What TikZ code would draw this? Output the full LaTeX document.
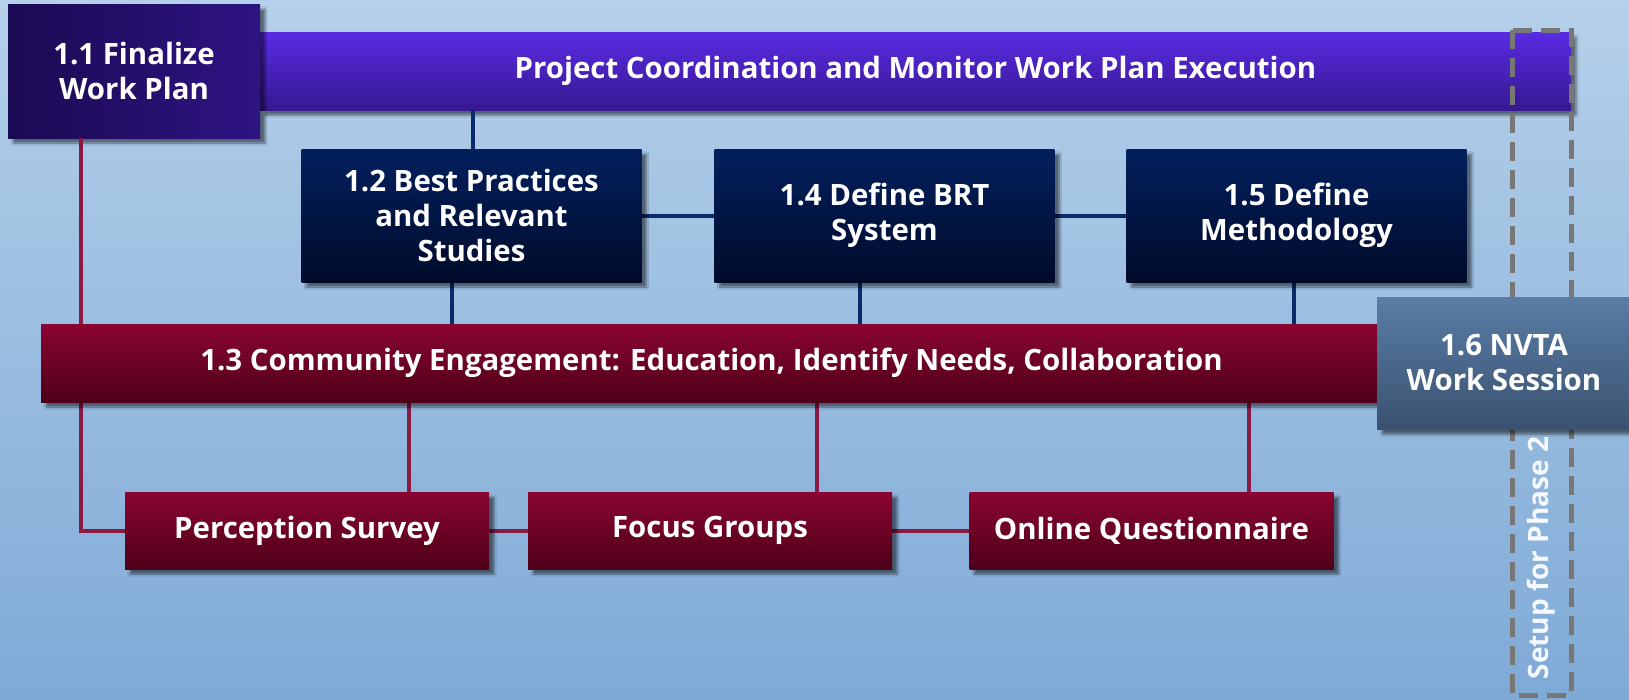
\documentclass[tikz,border=0pt]{standalone}
\usepackage{fontspec}
\setmainfont{Open Sans}
\usetikzlibrary{shadows.blur}
\definecolor{bgtop}{HTML}{B5D0EA}
\definecolor{bgbot}{HTML}{7FAAD6}
\definecolor{purtop}{HTML}{5A2BE3}
\definecolor{purbot}{HTML}{361890}
\definecolor{dpl}{HTML}{1A0A52}
\definecolor{dpr}{HTML}{2E1483}
\definecolor{navtop}{HTML}{03205E}
\definecolor{navbot}{HTML}{000B2A}
\definecolor{redtop}{HTML}{8A0532}
\definecolor{redbot}{HTML}{4E0018}
\definecolor{grtop}{HTML}{5A7DA6}
\definecolor{grbot}{HTML}{3A5270}
\definecolor{navline}{HTML}{0B2A6B}
\definecolor{redline}{HTML}{8A1A42}
\definecolor{dashgrey}{HTML}{777777}
\tikzset{
  sh/.style={blur shadow={shadow xshift=5pt, shadow yshift=-5pt, shadow blur steps=6, shadow opacity=50}},
  boxtxt/.style={text=white, align=center, font=\bfseries\fontsize{29.4}{35}\selectfont, inner sep=0pt},
  navbox/.style={boxtxt, sh, top color=navtop, bottom color=navbot, minimum width=340pt, minimum height=133pt},
  redbox/.style={boxtxt, sh, top color=redtop, bottom color=redbot, minimum width=364pt, minimum height=77pt},
  nl/.style={navline, line width=4pt},
  rl/.style={redline, line width=4pt},
}
\begin{document}
\begin{tikzpicture}[x=1pt,y=-1pt]
\fill[top color=bgtop, bottom color=bgbot] (0,0) rectangle (1629,699);
\useasboundingbox (0,0) rectangle (1629,699);
% connector guide coordinates
\coordinate (xa) at (473,0);
\coordinate (xb) at (452,0);
\coordinate (xc) at (860,0);
\coordinate (xd) at (1294,0);
\coordinate (xe) at (81,0);
\coordinate (xf) at (409,0);
\coordinate (xg) at (817,0);
\coordinate (xh) at (1249,0);
% nodes (positions)
\path
  (915.5,71) node[boxtxt, sh, top color=purtop, bottom color=purbot, minimum width=1311pt, minimum height=78pt] (pbar) {Project Coordination and Monitor Work Plan Execution}
  (134,71) node[boxtxt, sh, left color=dpl, right color=dpr, minimum width=252pt, minimum height=134pt] (b11) {1.1 Finalize\\Work Plan};
% dashed phase box
\coordinate (dtl) at (1512,30);
\coordinate (dbr) at (1571,695);
\draw[dashgrey, line width=5pt, dash pattern=on 19pt off 9pt] (dtl) rectangle (dbr);
\node[text=white!92!bgbot, font=\bfseries\fontsize{28}{32}\selectfont, rotate=90, inner sep=0pt] (ph) at (1541,558) {Setup for Phase 2};
% lines behind boxes
\path
  (471.5,215.5) coordinate (c12)
  (884.5,215.5) coordinate (c14)
  (1296.5,215.5) coordinate (c15)
  (711.5,363) coordinate (c13)
  (307,530.5) coordinate (cps)
  (710,530.5) coordinate (cfg)
  (1151.5,530.5) coordinate (coq);
\draw[nl] (xa |- pbar.south) -- (xa |- c12);
\draw[nl] (c12) -- (c14) -- (c15);
\draw[nl] (xb |- c12) -- (xb |- c13);
\draw[nl] (xc |- c14) -- (xc |- c13);
\draw[nl] (xd |- c15) -- (xd |- c13);
\draw[rl] (xe |- b11.south) |- (cps);
\draw[rl] (xf |- c13) -- (xf |- cps);
\draw[rl] (xg |- c13) -- (xg |- cfg);
\draw[rl] (xh |- c13) -- (xh |- coq);
\draw[rl] (cps) -- (cfg) -- (coq);
% boxes
\node[navbox] (b12) at (c12) {1.2 Best Practices\\and Relevant\\Studies};
\node[navbox] (b14) at (c14) {1.4 Define BRT\\System};
\node[navbox] (b15) at (c15) {1.5 Define\\Methodology};
\node[boxtxt, sh, top color=redtop, bottom color=redbot, minimum width=1341pt, minimum height=78pt] (b13) at (c13) {1.3 Community Engagement: Education, Identify Needs, Collaboration};
\node[redbox] (ps) at (cps) {Perception Survey};
\node[redbox] (fg) at (cfg) {Focus Groups};
\node[redbox] (oq) at (coq) {Online Questionnaire};
\node[boxtxt, sh, top color=grtop, bottom color=grbot, minimum width=254pt, minimum height=132pt] (b16) at (1504,363) {1.6 NVTA\\Work Session};
\end{tikzpicture}
\end{document}
